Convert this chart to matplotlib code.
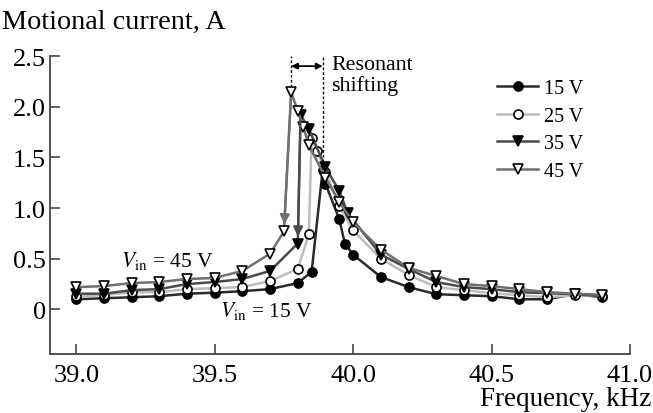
import matplotlib
matplotlib.use("Agg")
import matplotlib.pyplot as plt
import numpy as np

# ---- data ----
f15 = [39.0, 39.1, 39.2, 39.3, 39.4, 39.5, 39.6, 39.7, 39.8, 39.85, 39.89, 39.9,
       39.95, 39.97, 40.0, 40.1, 40.2, 40.3, 40.4, 40.5, 40.6, 40.7, 40.8, 40.9]
i15 = [0.10, 0.11, 0.12, 0.13, 0.155, 0.165, 0.18, 0.20, 0.26, 0.37, 1.38, 1.24,
       0.89, 0.65, 0.54, 0.32, 0.22, 0.15, 0.14, 0.13, 0.10, 0.10, 0.15, 0.12]

f25 = [39.0, 39.1, 39.2, 39.3, 39.4, 39.5, 39.6, 39.7, 39.8, 39.84, 39.85, 39.87,
       39.9, 39.95, 40.0, 40.1, 40.2, 40.3, 40.4, 40.5, 40.6, 40.7, 40.8, 40.9]
i25 = [0.13, 0.14, 0.17, 0.17, 0.20, 0.21, 0.22, 0.28, 0.40, 0.74, 1.69, 1.56,
       1.36, 1.02, 0.78, 0.50, 0.34, 0.22, 0.19, 0.16, 0.14, 0.12, 0.14, 0.13]

f35 = [39.0, 39.1, 39.2, 39.3, 39.4, 39.5, 39.6, 39.7, 39.8, 39.81, 39.84, 39.9,
       39.95, 39.98, 40.1, 40.2, 40.3, 40.4, 40.5, 40.6, 40.7, 40.8, 40.9]
i35 = [0.155, 0.155, 0.19, 0.20, 0.25, 0.27, 0.30, 0.38, 0.65, 1.92, 1.78, 1.40,
       1.17, 0.95, 0.54, 0.40, 0.27, 0.22, 0.20, 0.17, 0.16, 0.15, 0.13]

f45 = [39.0, 39.1, 39.2, 39.3, 39.4, 39.5, 39.6, 39.7, 39.75, 39.776, 39.8, 39.82,
       39.84, 39.9, 39.95, 40.0, 40.1, 40.2, 40.3, 40.4, 40.5, 40.6, 40.7, 40.8, 40.9]
i45 = [0.22, 0.23, 0.26, 0.27, 0.30, 0.31, 0.38, 0.55, 0.77, 2.14, 1.96, 1.80,
       1.62, 1.30, 1.06, 0.86, 0.59, 0.41, 0.33, 0.25, 0.23, 0.20, 0.17, 0.155, 0.145]

labels = ["15 V", "25 V", "35 V", "45 V"]
xticks = [39.0, 39.5, 40.0, 40.5, 41.0]
yticks = [0, 0.5, 1.0, 1.5, 2.0, 2.5]
yticklabels = ["0", "0.5", "1.0", "1.5", "2.0", "2.5"]

plt.rcParams['font.family'] = ['Liberation Serif', 'DejaVu Serif']
plt.rcParams['mathtext.fontset'] = 'stix'

fig = plt.figure(figsize=(6.53, 4.14), dpi=100)
ax = fig.add_axes([50/653, 1-355/414, 580/653, 298/414])

styles = [
    dict(color='#2a2a2a', marker='o', mfc='black', mec='black'),
    dict(color='#bdbdbd', marker='o', mfc='white', mec='black'),
    dict(color='#4a4a4a', marker='v', mfc='black', mec='black'),
    dict(color='#707070', marker='v', mfc='white', mec='black'),
]
series = [(f15, i15), (f25, i25), (f35, i35), (f45, i45)]
for (f, i), st, lab in zip(series, styles, labels):
    ax.plot(f, i, lw=1.8, ms=6.5, mew=1.2, label=lab, **st)

# hysteresis jump arrows (peak -> lower branch)
for f, i, col in [(f45, i45, '#707070'), (f35, i35, '#4a4a4a')]:
    k = int(np.argmax(i))
    ax.annotate('', xy=(f[k-1], i[k-1]), xytext=(f[k], i[k]),
                arrowprops=dict(arrowstyle='-|>', color=col, lw=1.6,
                                shrinkA=4, shrinkB=5, mutation_scale=14))

# resonant shifting markers
k45 = int(np.argmax(i45))
k15 = int(np.argmax(i15))
fl, fr = f45[k45], f15[k15]
ax.plot([fl, fl], [i45[k45] + 0.05, 2.5], ls=(0, (2, 1.5)), color='black', lw=1.0)
ax.plot([fr, fr], [1.45, 2.5], ls=(0, (2, 1.5)), color='black', lw=1.0)
ax.annotate('', xy=(fl, 2.40), xytext=(fr, 2.40),
            arrowprops=dict(arrowstyle='<|-|>', color='black', lw=1.3,
                            shrinkA=0, shrinkB=0, mutation_scale=9))
ax.text(fr + 0.03, 2.42, "Resonant", fontsize=15.8, va='center', ha='left')
ax.text(fr + 0.03, 2.21, "shifting", fontsize=15.8, va='center', ha='left')

ax.text(39.16, 0.49, r"$V_{\mathrm{in}}$ = 45 V", fontsize=15.5, va='center', ha='left')
ax.text(39.52, -0.01, r"$V_{\mathrm{in}}$ = 15 V", fontsize=15.5, va='center', ha='left')

ax.set_xlim(38.905, 41.0)
ax.set_ylim(-0.44, 2.5)
ax.set_xticks(xticks)
ax.set_xticklabels([f"{t:.1f}" for t in xticks])
ax.set_yticks(yticks)
ax.set_yticklabels(yticklabels)
for s in ['top', 'right']:
    ax.spines[s].set_visible(False)
for s in ['left', 'bottom']:
    ax.spines[s].set_color('#444444')
    ax.spines[s].set_linewidth(1.3)
ax.tick_params(direction='in', length=7, width=1.2, color='#444444',
               labelsize=19)
ax.tick_params(axis='x', pad=7)
ax.tick_params(axis='y', pad=3)

leg = ax.legend(loc='upper left', bbox_to_anchor=(0.757, 0.95), frameon=False,
                fontsize=14.5, handlelength=2.05, handletextpad=0.3,
                labelspacing=0.42, borderaxespad=0)

fig.text(2/653, 1-22/414, "Motional current, A", fontsize=20.3, va='center', ha='left')
fig.text(651/653, 2/414, "Frequency, kHz", fontsize=19.5, va='bottom', ha='right')

fig.savefig("out.png", dpi=100)
